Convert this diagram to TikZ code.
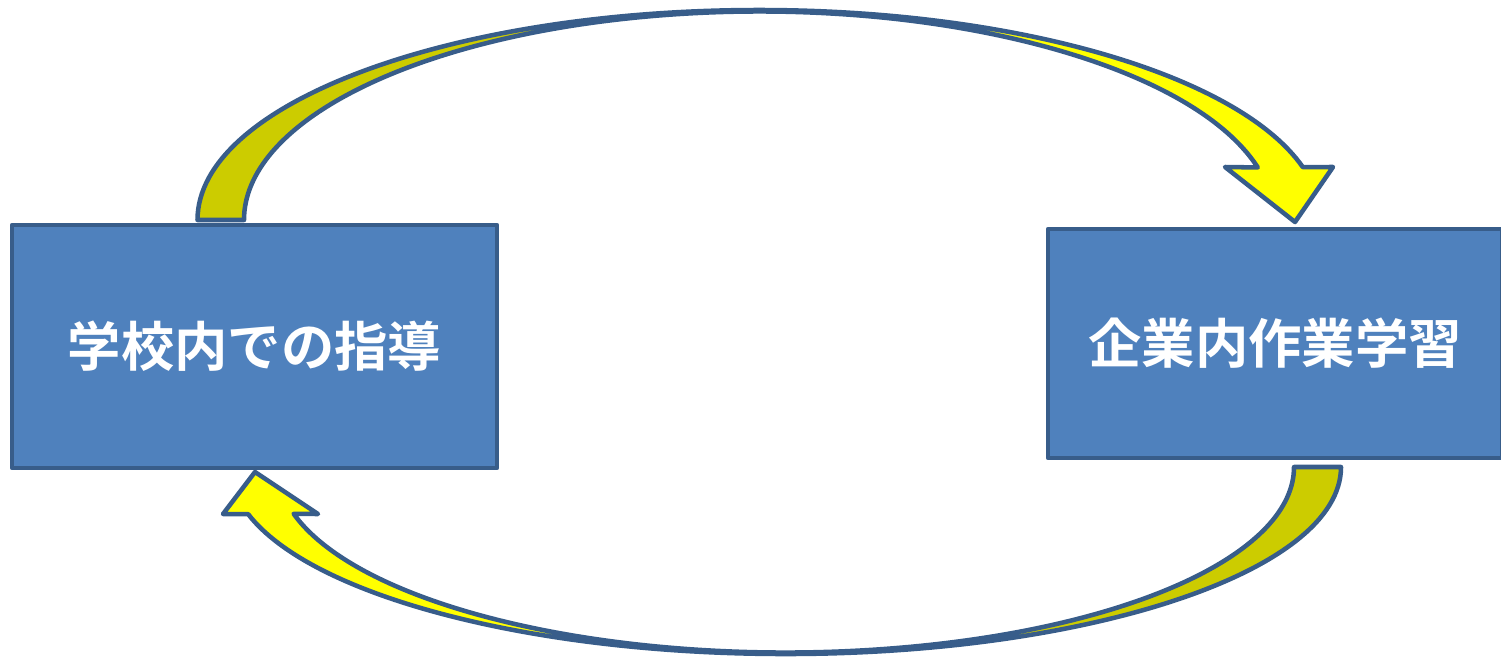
\documentclass[tikz,border=0pt]{standalone}
\usepackage{fontspec}
\usetikzlibrary{calc}
\newfontfamily\jp{Noto Sans CJK JP}[BoldFont={Noto Sans CJK JP Bold}]
\definecolor{outl}{HTML}{385D8A}
\definecolor{boxblue}{HTML}{4F81BD}
\definecolor{ybright}{HTML}{FFFF00}
\definecolor{ydark}{HTML}{CCCC00}
\begin{document}
\begin{tikzpicture}[x=0.75pt,y=-0.75pt,
  outline/.style={draw=outl,line width=3.4pt,line join=round},
  box/.style={rectangle,fill=boxblue,draw=outl,line width=3.5pt,line join=round,
    inner sep=0pt,outer sep=0pt,text=white,
    font=\jp\bfseries\fontsize{40pt}{48pt}\selectfont}]
\useasboundingbox (0,0) rectangle (1501,658);
% ---------- top curved arrow ----------
\coordinate (TC) at (759.2,220);
\coordinate (Tol) at ($(TC)+(180:561.7 and 210)$);
\coordinate (Ttop) at ($(TC)+(270:561.7 and 210)$);
\coordinate (Tit) at ($(TC)+(270:515.2 and 208.5)$);
\coordinate (Tie) at ($(TC)+(345.4:515.2 and 208.5)$);
\coordinate (Tbr) at (1333,167);
\coordinate (Ttip) at (1295,222);
\coordinate (Tbl) at (1225,167);
\fill[ydark] (Tol) arc[start angle=180,end angle=270,x radius=561.7,y radius=210]
  -- (Tit) arc[start angle=270,end angle=180,x radius=515.2,y radius=208.5] -- cycle;
\fill[ybright] (Ttop) arc[start angle=270,end angle=345.4,x radius=561.7,y radius=210]
  -- (Tbr) -- (Ttip) -- (Tbl) -- (Tie)
  arc[start angle=345.4,end angle=270,x radius=515.2,y radius=208.5] -- cycle;
\draw[outline] (Tol) arc[start angle=180,end angle=345.4,x radius=561.7,y radius=210]
  -- (Tbr) -- (Ttip) -- (Tbl) -- (Tie)
  arc[start angle=345.4,end angle=180,x radius=515.2,y radius=208.5] -- cycle;
% ---------- bottom curved arrow ----------
\coordinate (BC) at (785.6,467);
\coordinate (Bor) at ($(BC)+(0:555.4 and 187)$);
\coordinate (Bbot) at ($(BC)+(90:555.4 and 187)$);
\coordinate (Bib) at ($(BC)+(90:508.4 and 185.5)$);
\coordinate (Bie) at ($(BC)+(165.4:508.4 and 185.5)$);
\coordinate (Bbl) at (223,514);
\coordinate (Btip) at (255,472);
\coordinate (Bbr) at (318,514);
\fill[ydark] (Bor) arc[start angle=0,end angle=90,x radius=555.4,y radius=187]
  -- (Bib) arc[start angle=90,end angle=0,x radius=508.4,y radius=185.5] -- cycle;
\fill[ybright] (Bbot) arc[start angle=90,end angle=165.4,x radius=555.4,y radius=187]
  -- (Bbl) -- (Btip) -- (Bbr) -- (Bie)
  arc[start angle=165.4,end angle=90,x radius=508.4,y radius=185.5] -- cycle;
\draw[outline] (Bor) arc[start angle=0,end angle=165.4,x radius=555.4,y radius=187]
  -- (Bbl) -- (Btip) -- (Bbr) -- (Bie)
  arc[start angle=165.4,end angle=0,x radius=508.4,y radius=185.5] -- cycle;
% ---------- boxes ----------
\node[box,minimum width=363.75pt,minimum height=182.25pt] (school) at (254.5,346.5) {学校内での指導};
\node[box,minimum width=340.5pt,minimum height=171.75pt] (work) at (1275,343.5) {企業内作業学習};
\end{tikzpicture}
\end{document}
